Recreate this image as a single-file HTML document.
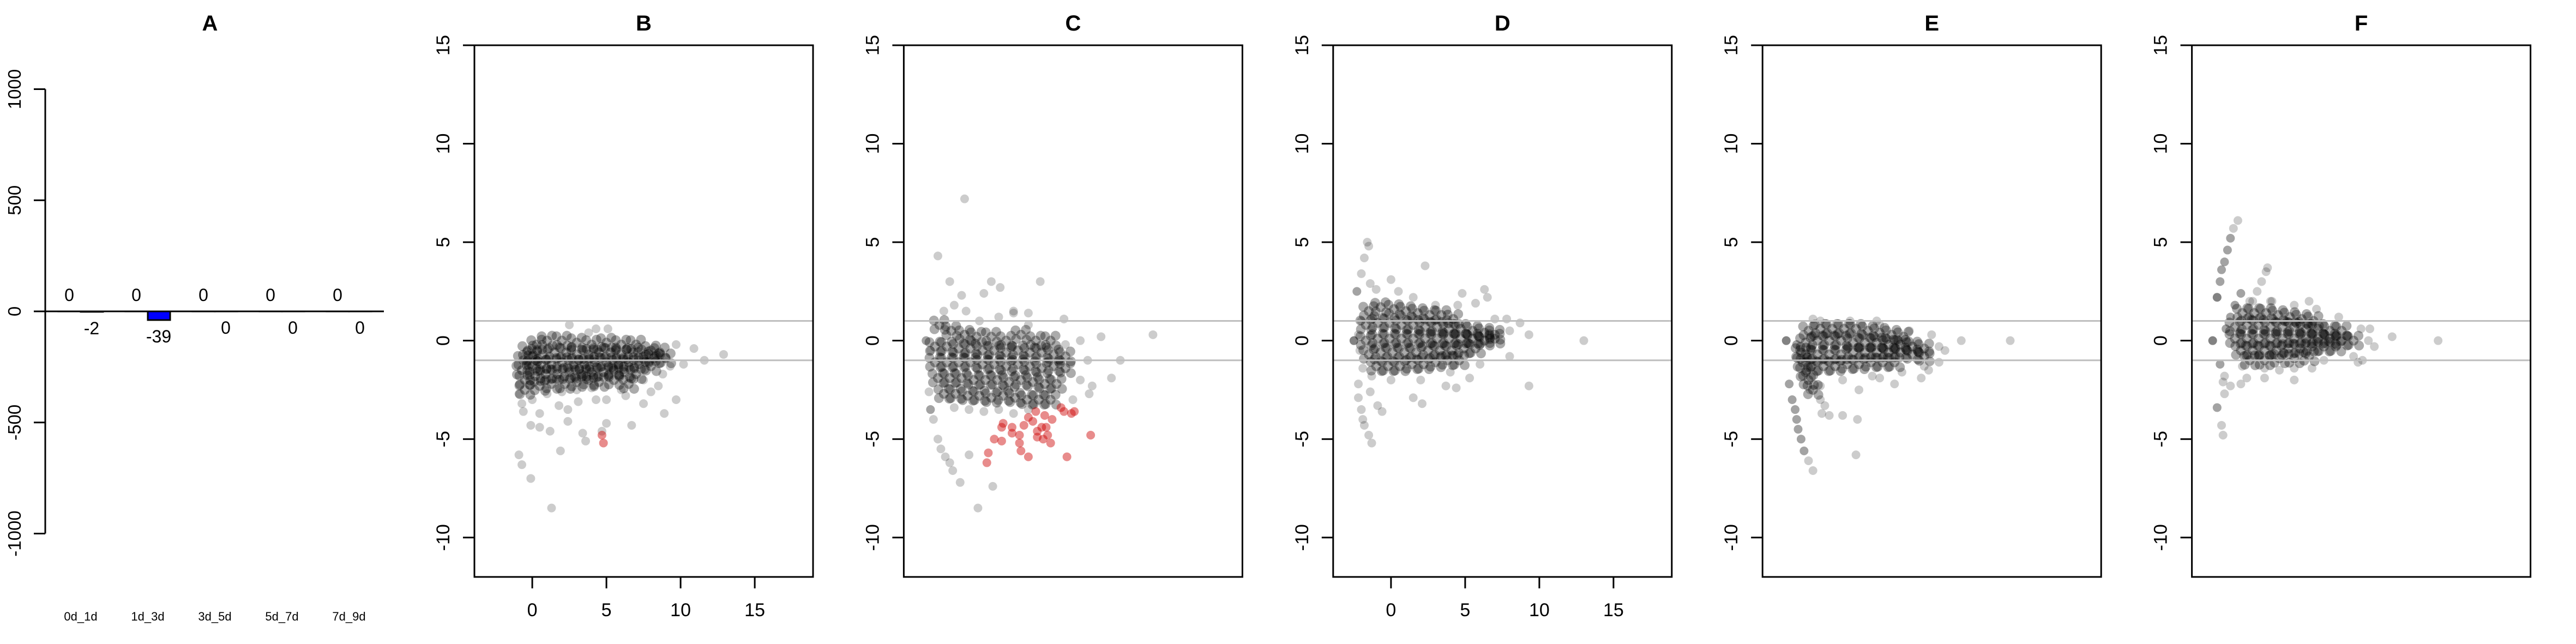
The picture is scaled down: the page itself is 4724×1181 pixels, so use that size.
<!DOCTYPE html>
<html><head><meta charset="utf-8"><style>
html,body{margin:0;padding:0;background:#fff;}
svg{display:block;}
text{font-family:"Liberation Sans",sans-serif;}
</style></head><body>
<svg id="fig" width="4724" height="1181" viewBox="0 0 4724 1181" xmlns="http://www.w3.org/2000/svg"></svg>
<script>
// ---- Panel A data ----
const barCategories = ["0d_1d","1d_3d","3d_5d","5d_7d","7d_9d"];
const upValues = [0,0,0,0,0];
const downValues = [-2,-39,0,0,0];
const barTicks = [-1000,-500,0,500,1000];
// ---- MA panels data ----
const panelTitles = ["B","C","D","E","F"];
const maYTicks = [-10,-5,0,5,10,15];
const maXTicks = [0,5,10,15];
const showXAxis = [true,false,true,false,false];
const coreB = "-0.3,-0.5 0.3,-0.2 1,0 2,0 3,-0.1 4,-0.2 5,-0.1 6,-0.2 7,-0.2 8,-0.5 8.6,-0.6 -0.6,-1 0,-0.8 0.7,-0.7 1.5,-0.6 2.3,-0.6 3,-0.7 3.8,-0.7 4.5,-0.6 5.3,-0.6 6,-0.7 6.8,-0.6 7.5,-0.8 8.2,-0.9 9,-0.9 -0.7,-1.5 0,-1.3 0.6,-1.2 1.3,-1.2 2,-1.1 2.8,-1.2 3.5,-1.2 4.2,-1.1 5,-1.1 5.8,-1.2 6.5,-1.1 7.2,-1.2 8,-1.3 -0.5,-2 0.2,-1.8 0.9,-1.7 1.7,-1.7 2.5,-1.6 3.3,-1.7 4,-1.6 4.8,-1.6 5.5,-1.5 6.2,-1.6 7,-1.7 -0.5,-2.5 0.5,-2.3 1.3,-2.2 2.2,-2.2 3,-2.1 3.8,-2 4.5,-2.1 5.5,-2 6.5,-2.2";
const outB = "0,-3 1,-2.7 2,-2.6 3,-2.5 4,-2.4 6,-2.5 7.5,-2 2.5,0.8 3.8,0.4 4.3,0.6 5.1,0.6 9.7,-0.2 10.9,-0.4 12.9,-0.7 11.6,-1.0 10.2,-1.2 9.3,-1.3 8.8,-1.7 8.5,-2.3 8.0,-2.6 9.7,-3.0 8.9,-3.7 7.5,-3.2 6.7,-4.3 6.3,-2.8 5.0,-3.0 4.3,-3.0 5.0,-4.2 4.7,-4.6 3.4,-4.7 3.6,-5.1 1.9,-5.6 2.4,-4.1 1.2,-4.6 0.5,-4.4 -0.1,-4.3 0.5,-3.7 -0.6,-3.6 -0.9,-2.7 -0.9,-5.8 -0.7,-6.3 -0.1,-7.0 1.3,-8.5 -0.7,-3.2 1.8,-3.3 2.4,-3.5 3.1,-3.1";
const redB = "4.7,-4.8 4.8,-5.2";
const coreC = "-1.5,0.8 -0.7,0.5 0.2,0.3 1,0.2 2,0.2 3,0 4,0.3 5,0 6,0 -1.8,-0.3 -1,-0.3 -0.2,-0.4 0.6,-0.4 1.4,-0.5 2.2,-0.5 3,-0.6 3.8,-0.5 4.6,-0.6 5.4,-0.6 6.2,-0.7 7,-0.8 -1.8,-1.1 -1,-1.1 -0.2,-1.1 0.6,-1.1 1.4,-1.2 2.2,-1.2 3,-1.3 3.8,-1.2 4.6,-1.3 5.4,-1.4 6.2,-1.3 7,-1.4 -1.6,-1.9 -0.8,-1.9 0,-1.9 0.8,-2 1.6,-2 2.4,-2 3.2,-2.1 4,-2 4.8,-2.1 5.6,-2.2 6.4,-2.2 -1.2,-2.7 -0.4,-2.7 0.4,-2.8 1.2,-2.8 2,-2.9 2.8,-2.8 3.6,-2.9 4.4,-3 5.2,-3 6,-3";
const outC = "-0.5,-3.4 0.5,-3.5 1.5,-3.6 2.5,-3.5 3.5,-3.7 4.5,-3.5 -1.2,1.5 -0.5,1.8 0.3,1.5 1.2,1 2.5,1.2 3.5,1.4 4.5,0.8 7,-0.2 8,0 8.5,-1 8,-2 7.5,-3 0.2,7.2 -1.6,4.3 -0.8,3.0 2.0,3.0 2.6,2.7 5.3,3.0 0,2.3 1.5,2.4 3.5,1.5 4.5,1.4 6.9,1.1 12.9,0.3 9.4,0.2 10.7,-1.0 10.1,-1.9 8.8,-2.3 8.6,-2.7 -2.2,-2.6 -1.9,-4.0 -1.6,-5.0 -1.4,-5.5 -1.1,-5.9 -0.8,-6.2 -0.6,-6.6 -0.1,-7.2 2.1,-7.4 1.1,-8.5 0.5,-5.8 -2.4,0 -2.1,-0.5 -2.1,-3.5 -2.4,0 -2.1,-3.5";
const redC = "1.8,-5.7 1.7,-6.2 2.2,-5.0 2.7,-5.1 2.7,-4.4 3.4,-4.4 3.4,-4.7 3.9,-4.8 3.9,-5.2 4.0,-5.6 4.5,-5.9 4.2,-4.3 4.5,-3.9 4.8,-4.1 5.0,-3.6 5.1,-4.6 5.1,-4.9 5.4,-4.4 5.5,-5.0 5.6,-3.8 5.7,-4.4 5.8,-4.8 6.0,-5.2 6.1,-4.0 6.7,-3.4 6.9,-3.6 7.4,-3.7 7.6,-3.6 7.1,-5.9 8.7,-4.8 2.8,-4.2";
const coreD = "-1.5,1.5 -0.7,1.7 0.2,1.6 1,1.5 1.8,1.4 2.6,1.3 3.4,1.3 4.2,1.1 -1.7,0.8 -0.9,0.9 -0.1,0.9 0.7,0.8 1.5,0.8 2.3,0.7 3.1,0.7 3.9,0.6 4.7,0.6 5.5,0.5 6.3,0.4 7,0.3 -1.7,0 -0.9,0.1 -0.1,0.1 0.7,0.1 1.5,0.1 2.3,0.1 3.1,0.1 3.9,0.1 4.7,0.1 5.5,0.1 6.3,0 7,0.1 -1.5,-0.7 -0.7,-0.6 0.1,-0.6 0.9,-0.6 1.7,-0.6 2.5,-0.5 3.3,-0.5 4.1,-0.5 4.9,-0.4 5.7,-0.4 -1,-1.3 -0.2,-1.3 0.6,-1.3 1.4,-1.2 2.2,-1.2 3,-1.1 3.8,-1 4.6,-1";
const outD = "-1,2.6 0.5,2.5 1.5,2.2 3,1.8 4.5,1.8 5.7,1.9 7,1.1 8,0.5 8,-0.8 6,-1.2 4,-1.6 2,-2 0,-2 -1.3,-1.8 -1.6,5.0 -1.5,4.8 -1.8,4.2 -2.0,3.4 -2.3,2.5 -2.3,2.5 -1.4,2.9 0,3.1 2.3,3.8 6.3,2.6 6.5,2.2 4.8,2.4 9.3,0.3 13.0,0 8.7,0.9 7.8,1.1 9.3,-2.3 4.4,-2.4 5.3,-1.9 3.7,-2.3 2.1,-3.2 1.5,-2.9 -0.9,-3.3 -0.6,-3.6 -1.4,-2.6 -2.2,-2.2 -2.2,-2.9 -2.0,-3.5 -1.9,-4.0 -1.8,-4.3 -1.5,-4.8 -1.3,-5.2 -2.5,0 -2.5,0 -2.5,0 -2.2,0.3 -2.1,-0.5 -2.0,1.0 -1.9,-1.4";
const coreE = "-0.8,0.5 0,0.6 0.8,0.6 1.6,0.6 2.4,0.6 3.2,0.5 4,0.4 4.8,0.3 5.6,0.2 -1,-0.1 -0.2,0 0.6,0 1.4,0 2.2,-0.1 3,-0.1 3.8,-0.1 4.6,-0.2 5.4,-0.2 6.2,-0.3 7,-0.4 -1,-0.7 -0.2,-0.7 0.6,-0.7 1.4,-0.7 2.2,-0.6 3,-0.6 3.8,-0.6 4.6,-0.6 5.4,-0.6 6.2,-0.7 7,-0.8 -0.6,-1.3 0.2,-1.3 1,-1.3 1.8,-1.2 2.6,-1.2 3.4,-1.1 4.2,-1.1 5,-1.1 -1.3,-0.6 -1.2,-1.1 -1,-1.6 -0.8,-2 -0.5,-2.5";
const outE = "0,1 2,1 4,0.8 6,0.5 7.5,0.3 8,-0.3 7,-1.3 5.5,-1.6 3.5,-1.8 1.5,-2 0,-2.3 -2.3,0 -2.3,0 -2.3,0 -2.1,-2.2 -2.1,-2.2 -1.9,-3.0 -1.9,-3.0 -1.7,-3.5 -1.7,-3.5 -1.6,-4.0 -1.6,-4.0 -1.5,-4.5 -1.5,-4.5 -1.3,-5.0 -1.3,-5.0 -1.1,-5.6 -1.1,-5.6 -0.8,-6.1 -0.5,-6.6 -1.6,-0.2 -1.6,-0.2 -0.7,-2.5 0,-3.0 -0.5,1.1 3.8,1.0 9.5,0 12.8,0 8.4,-0.5 8.0,-1.1 7.3,-1.5 6.8,-1.9 5.0,-2.2 2.6,-2.5 0.3,-3.3 0.6,-3.8 1.5,-3.8 2.5,-4.0 2.4,-5.8 0.1,-3.7 4.0,-1.9";
const coreF = "-0.5,1.4 0.3,1.4 1.1,1.4 1.9,1.3 2.7,1.2 3.5,1.1 4.3,1 -1,0.7 -0.2,0.8 0.6,0.8 1.4,0.7 2.2,0.7 3,0.7 3.8,0.6 4.6,0.6 5.4,0.5 6.2,0.5 -1,0.1 -0.2,0.1 0.6,0.1 1.4,0.1 2.2,0.1 3,0.1 3.8,0.1 4.6,0.1 5.4,0.1 6.2,0 7,0 -0.6,-0.5 0.2,-0.5 1,-0.5 1.8,-0.5 2.6,-0.4 3.4,-0.4 4.2,-0.3 5,-0.3 5.8,-0.3 0,-1 1,-1 2,-0.9 3,-0.9 4,-0.8";
const outF = "0,2 1.5,2 3,1.8 4.5,1.6 6,1.2 7.5,0.6 8,0 7,-0.8 5,-1 3,-1.4 1,-1.4 -0.5,-1.3 -2.5,0 -2.5,0 -2.5,0 -2.2,2.2 -2.2,2.2 -2.2,2.2 -2.0,3.0 -2.0,3.0 -1.9,3.6 -1.9,3.6 -1.7,4.0 -1.7,4.0 -1.5,4.6 -1.5,4.6 -1.3,5.2 -1.3,5.2 -1.1,5.7 -0.8,6.1 -1.6,0.6 -1.6,0.6 -1.3,1.2 -1.3,1.2 -1.0,1.8 -1.0,1.8 -0.6,2.4 -0.6,2.4 0.2,2.0 0.5,2.5 0.8,3.0 1.1,3.5 1.2,3.7 -2.0,-1.2 -2.0,-1.2 -1.7,-1.8 -1.3,-2.3 -1.7,-2.7 -2.2,-3.4 -2.2,-3.4 -1.9,-4.3 -1.8,-4.8 -1.8,-2.1 4.0,2.0 1.4,2.0 8.1,0.6 9.6,0.2 12.7,0 8.4,-0.3 7.6,-1.0 7.3,-1.1 3.0,-2.0 1.0,-1.9 -0.2,-1.9 -0.6,-2.2 2.0,-1.5 4.2,-1.4";
const coreSets = [coreB, coreC, coreD, coreE, coreF];
const outSets = [outB, outC, outD, outE, outF];
const redSets = [redB, redC, "", "", ""];

const NS = "http://www.w3.org/2000/svg";
const svg = document.getElementById('fig');
function mk(tag, attrs, parent){ const e=document.createElementNS(NS,tag); for(const k in attrs) e.setAttribute(k,attrs[k]); (parent||svg).appendChild(e); return e; }
function parse(s){ return s.trim()===""?[]:s.trim().split(/\s+/).map(p=>p.split(',').map(Number)); }

// ---- Panel A ----
const gA = mk('g',{});


const aY = v => 571 - v*0.4075;
const aX0 = 127, aStep = 123;
let t = mk('text',{x:385,y:56,'font-size':40,'font-weight':'bold','text-anchor':'middle'},gA); t.textContent='A';
 
const axA = mk('line',{x1:83,y1:aY(1000),x2:83,y2:aY(-1000),stroke:'#000','stroke-width':3},gA);
 
barTicks.forEach(v=>{
  const tk=mk('line',{x1:62,y1:aY(v),x2:83,y2:aY(v),stroke:'#000','stroke-width':3},gA);
   
  const lb=mk('text',{x:0,y:0,'font-size':33,'text-anchor':'middle',transform:`translate(38,${aY(v)}) rotate(-90)`},gA);
  lb.textContent=v;  
});
barCategories.forEach((c,i)=>{
  const cx = aX0 + i*aStep;
  const up = mk('rect',{x:cx-20,y:aY(upValues[i]),width:41,height:Math.max(0.1,aY(0)-aY(upValues[i])),fill:'red',stroke:'#000','stroke-width':3},gA);
   
  const dn = mk('rect',{x:cx+21,y:aY(0),width:41,height:Math.max(0.1,aY(downValues[i])-aY(0)),fill:'blue',stroke:'#000','stroke-width':3},gA);
   
  const ul=mk('text',{x:cx,y:aY(upValues[i])-19,'font-size':32,'text-anchor':'middle'},gA);
  ul.textContent=upValues[i];  
  const dl=mk('text',{x:cx+41,y:aY(downValues[i])+41,'font-size':32,'text-anchor':'middle'},gA);
  dl.textContent=downValues[i];  
  const xl=mk('text',{x:cx+21,y:1138,'font-size':22,'text-anchor':'middle'},gA);
  xl.textContent=c;  
});
const base=mk('line',{x1:62,y1:aY(0),x2:704,y2:aY(0),stroke:'#000','stroke-width':3},gA);
 

// ---- MA panels ----
panelTitles.forEach((title,p)=>{
  const L = 870 + p*787.4, W = 621, T = 83, B = 1058;
  const X0=-3.9, X1=18.93, Y0=-12, Y1=15;
  const sx = v => L + (v-X0)/(X1-X0)*W;
  const sy = v => B - (v-Y0)/(Y1-Y0)*(B-T);
  const g = mk('g',{});
  
  
  const tt=mk('text',{x:L+W/2,y:56,'font-size':40,'font-weight':'bold','text-anchor':'middle'},g);
  tt.textContent=title;  
  const cl = 'clip'+p;
  const cp = mk('clipPath',{id:cl},g); mk('rect',{x:L,y:T,width:W,height:B-T},cp);
  const pg = mk('g',{'clip-path':`url(#${cl})`},g);
  parse(outSets[p]).forEach(([x,y])=>{
    const c=mk('circle',{cx:sx(x),cy:sy(y),r:8,fill:'rgba(0,0,0,0.2)'},pg);
     
  });
  // dense core: each point drawn as a small soft cluster (style offsets in pixels)
  const offs = [[0,0],[10,9],[-9,8],[9,-9],[-10,-8]];
  parse(coreSets[p]).forEach(([x,y])=>{
    offs.forEach(([dx,dy])=>{
      const c=mk('circle',{cx:sx(x)+dx,cy:sy(y)+dy,r:9,fill:'rgba(0,0,0,0.33)'},pg);
       
    });
  });
  parse(redSets[p]).forEach(([x,y])=>{
    const c=mk('circle',{cx:sx(x),cy:sy(y),r:8,fill:'rgba(205,0,0,0.45)'},pg);
     
  });
  [1,-1].forEach(v=>{
    const hl=mk('line',{x1:L,y1:sy(v),x2:L+W,y2:sy(v),stroke:'#bebebe','stroke-width':3},g);
     
  });
  const bx=mk('rect',{x:L,y:T,width:W,height:B-T,fill:'none',stroke:'#000','stroke-width':3},g);
   
  maYTicks.forEach(v=>{
    const tk=mk('line',{x1:L-21,y1:sy(v),x2:L,y2:sy(v),stroke:'#000','stroke-width':3},g);
     
    const lb=mk('text',{x:0,y:0,'font-size':34,'text-anchor':'middle',transform:`translate(${L-46},${sy(v)}) rotate(-90)`},g);
    lb.textContent=v;  
  });
  if(showXAxis[p]){
    maXTicks.forEach(v=>{
      const tk=mk('line',{x1:sx(v),y1:B,x2:sx(v),y2:B+21,stroke:'#000','stroke-width':3},g);
       
      const lb=mk('text',{x:sx(v),y:1130,'font-size':34,'text-anchor':'middle'},g);
      lb.textContent=v;  
    });
  }
});
</script>
</body></html>
